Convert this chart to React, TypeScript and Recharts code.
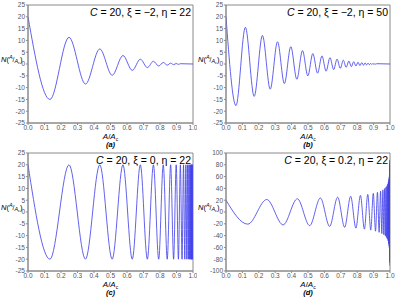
import { LineChart, Line, XAxis, YAxis, ReferenceArea } from 'recharts'

// peak / trough positions (eta = 22 panels share them)
const X22 = [
  0, 0.1331, 0.2484, 0.3484, 0.4351, 0.5103, 0.5755, 0.632, 0.6809, 0.7234,
  0.7602, 0.7921, 0.8198, 0.8438, 0.8645, 0.8826, 0.8982, 0.9117, 0.9235, 0.9337,
  0.9425, 0.9502, 0.9568, 0.9625, 0.9675, 0.9718, 0.9756, 0.9788, 0.9817, 0.9841,
  0.9862, 0.988, 0.9896, 0.991, 0.9922, 0.9932, 0.9941, 0.9949, 0.9956, 0.9962,
  0.9967, 0.9971, 0.9975, 0.9979, 0.9981, 0.9984, 0.9986, 0.9988, 0.999, 0.9991,
  0.9992, 0.9993, 0.9994, 0.9995,
]
const X50 = [
  0, 0.0609, 0.1181, 0.1718, 0.2222, 0.2696, 0.3141, 0.3559, 0.3951, 0.4319,
  0.4665, 0.499, 0.5295, 0.5582, 0.5851, 0.6103, 0.6341, 0.6564, 0.6773, 0.6969,
  0.7154, 0.7327, 0.749, 0.7643, 0.7786, 0.7921, 0.8048, 0.8167, 0.8278, 0.8383,
  0.8482, 0.8574, 0.8661, 0.8742, 0.8819, 0.8891, 0.8959, 0.9022, 0.9082, 0.9137,
  0.919,
]

const A_Y = [
  20, -15.03, 11.3, -8.49, 6.38, -4.8, 3.6, -2.71, 2.04, -1.53,
  1.15, -0.86, 0.65, -0.49, 0.37, -0.28, 0.21, -0.16, 0.12,
]
const B_Y = [
  20, -17.64, 15.56, -13.72, 12.1, -10.67, 9.41, -8.3, 7.32, -6.45,
  5.69, -5.02, 4.43, -3.9, 3.44, -3.04, 2.68, -2.36, 2.08, -1.84,
  1.62, -1.43, 1.26, -1.11, 0.98, -0.86, 0.76, -0.67, 0.59, -0.52,
  0.46, -0.41, 0.36, -0.32, 0.28, -0.25, 0.22, -0.19, 0.17, -0.15,
  0.13,
]
const C_Y = [
  20, -20, 20, -20, 20, -20, 20, -20, 20, -20,
  20, -20, 20, -20, 20, -20, 20, -20, 20, -20,
  20, -20, 20, -20, 20, -20, 20, -20, 20, -20,
  20, -20, 20, -20, 20, -20, 20, -20, 20, -20,
  20,
]
const D_Y = [
  20, -20.58, 21.18, -21.79, 22.42, -23.07, 23.74, -24.43, 25.13, -25.86,
  26.61, -27.38, 28.17, -28.99, 29.83, -30.7, 31.58, -32.5, 33.44, -34.41,
  35.41, -36.43, 37.49, -38.57, 39.69, -40.84, 42.02, -43.24, 44.49, -45.78,
  47.11, -48.47, 49.87, -51.32, 52.8, -54.33, 55.9, -57.52, 59.18, -60.9,
  62.66, -64.47, 66.34, -68.26, 70.24, -72.27, 74.37, -76.52, 78.74, -81.02,
  83.36, -85.78, 88.26, -90.82,
]

const X_TICKS = [0, 0.1, 0.2, 0.3, 0.4, 0.5, 0.6, 0.7, 0.8, 0.9, 1]
const Y_TICKS_25 = [-25, -20, -15, -10, -5, 0, 5, 10, 15, 20, 25]
const Y_TICKS_100 = [-100, -80, -60, -40, -20, 0, 20, 40, 60, 80, 100]

const FONT = '"Liberation Sans", Arial, sans-serif'
const AXIS = '#8a8a8a'
const BLUE = '#4646ec'

type Pt = { x: number; y: number }
const zip = (xs: number[], ys: number[], tail: Pt[] = []): Pt[] =>
  ys.map((y, i) => ({ x: xs[i], y })).concat(tail)

interface PanelProps {
  left: number
  top: number
  width: number
  height: number
  plotLeft: number
  data: Pt[]
  yTicks: number[]
  xi: string
  eta: string
  tag: string
}

function Panel({ left, top, width, height, plotLeft, data, yTicks, xi, eta, tag }: PanelProps) {
  const yMin = yTicks[0]
  const yMax = yTicks[yTicks.length - 1]
  const plotRight = 193
  const plotTop = 5
  const plotBottom = 123
  const cx = (plotLeft + plotRight) / 2
  const tick = { fontSize: 6.5, fill: '#555', fontFamily: FONT }
  return (
    <div style={{ position: 'absolute', left, top, width, height }}>
      <LineChart
        width={width}
        height={height}
        data={data}
        margin={{ top: plotTop, right: width - plotRight, left: plotLeft - 20, bottom: height - plotBottom - 10 }}
      >
        <XAxis
          type="number"
          dataKey="x"
          domain={[0, 1]}
          ticks={X_TICKS}
          tickFormatter={(v: number) => v.toFixed(1)}
          tick={tick}
          tickSize={2}
          tickMargin={0}
          height={10}
          stroke={AXIS}
          allowDataOverflow
        />
        <YAxis
          type="number"
          domain={[yMin, yMax]}
          ticks={yTicks}
          tick={tick}
          tickSize={2}
          tickMargin={1}
          width={20}
          stroke={AXIS}
          interval={0}
          allowDataOverflow
        />
        <ReferenceArea x1={0} x2={1} y1={yMin} y2={yMax} fill="none" stroke={AXIS} strokeOpacity={1} />
        <Line
          type="monotone"
          dataKey="y"
          stroke={BLUE}
          strokeWidth={0.85}
          dot={false}
          isAnimationActive={false}
        />
      </LineChart>
      <div
        style={{
          position: 'absolute', right: width - plotRight + 2, top: plotTop + 1,
          fontFamily: FONT, fontSize: 10.5, lineHeight: '12px', whiteSpace: 'nowrap', color: '#000',
        }}
      >
        <i>C</i> = 20, ξ = {xi}, η = {eta}
      </div>
      <div
        style={{
          position: 'absolute', left: 1, top: 55, fontFamily: FONT, fontSize: 7.5,
          lineHeight: '10px', whiteSpace: 'nowrap', color: '#000',
        }}
      >
        <i>N</i>(
        <span style={{ fontSize: 5.5, position: 'relative', top: -3 }}><i>A</i></span>
        <span style={{ fontSize: 6.5 }}>/</span>
        <span style={{ fontSize: 5.5, position: 'relative', top: 1 }}><i>A</i></span>
        <span style={{ fontSize: 4, position: 'relative', top: 2 }}>c</span>)
      </div>
      <div
        style={{
          position: 'absolute', left: cx - 30, width: 60, top: 132, textAlign: 'center',
          fontFamily: FONT, fontSize: 8, lineHeight: '9px', color: '#000',
        }}
      >
        <i>A</i>/<i>A</i><span style={{ fontSize: 5, position: 'relative', top: 1.5 }}>c</span>
      </div>
      <div
        style={{
          position: 'absolute', left: cx - 20, width: 40, top: 140, textAlign: 'center',
          fontFamily: FONT, fontSize: 7.5, lineHeight: '9px', fontWeight: 'bold', fontStyle: 'italic', color: '#000',
        }}
      >
        ({tag})
      </div>
    </div>
  )
}

export default function App() {
  const end = [{ x: 1, y: 0 }]
  return (
    <div style={{ position: 'absolute', left: 0, top: 0, width: 395, height: 299, background: '#fff', overflow: 'hidden' }}>
      <Panel left={0} top={0} width={197} height={150} plotLeft={28} data={zip(X22, A_Y, end)} yTicks={Y_TICKS_25} xi="−2" eta="22" tag="a" />
      <Panel left={197} top={0} width={198} height={150} plotLeft={29} data={zip(X50, B_Y, end)} yTicks={Y_TICKS_25} xi="−2" eta="50" tag="b" />
      <Panel left={0} top={148} width={197} height={151} plotLeft={28} data={zip(X22, C_Y)} yTicks={Y_TICKS_25} xi="0" eta="22" tag="c" />
      <Panel left={197} top={148} width={198} height={151} plotLeft={29} data={zip(X22, D_Y)} yTicks={Y_TICKS_100} xi="0.2" eta="22" tag="d" />
    </div>
  )
}
